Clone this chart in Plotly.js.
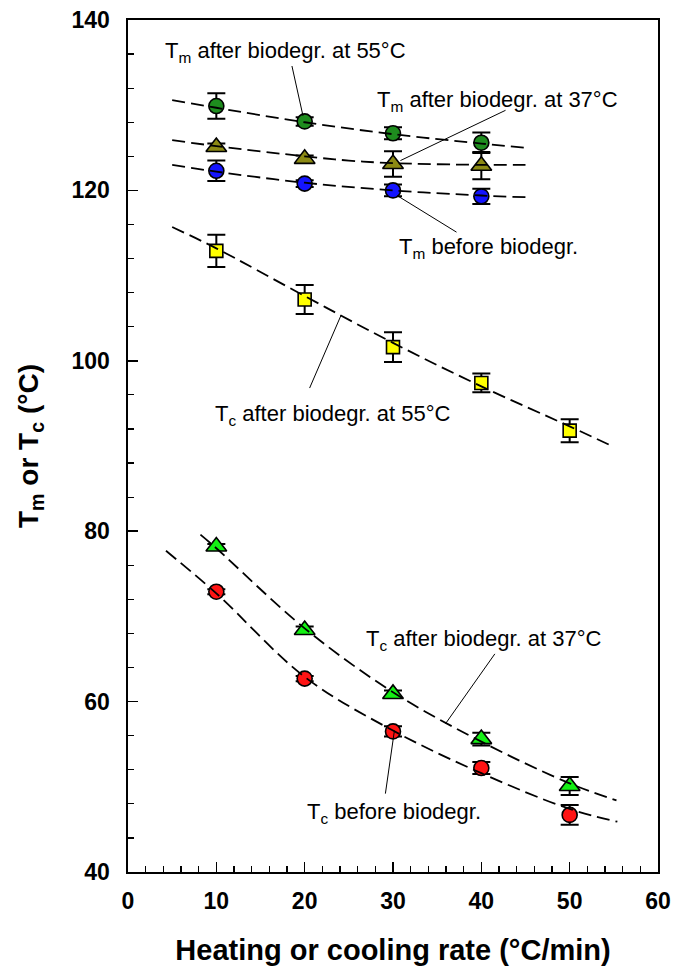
<!DOCTYPE html>
<html>
<head>
<meta charset="utf-8">
<script src="https://cdn.plot.ly/plotly-3.0.1.min.js"></script>
<style>html,body{margin:0;padding:0;background:#fff;}#chart{width:676px;height:972px;}</style>
</head>
<body>
<div id="chart"></div>
<script>
// ---- data ----
const rateTm = [10, 20, 30, 40];
const rateTc = [10, 20, 30, 40, 50];

const tmBefore = [122.3, 120.8, 120.0, 119.3];
const tmBeforeErr = [1.2, 0.4, 0.7, 0.9];
const tm37 = [125.1, 123.7, 123.1, 122.9];
const tm37Err = [0.4, 0.4, 1.5, 1.6];
const tm55 = [129.9, 128.1, 126.7, 125.6];
const tm55Err = [1.5, 0.5, 0.7, 1.2];

const tc55 = [112.9, 107.2, 101.6, 97.4, 91.8];
const tc55Err = [1.9, 1.7, 1.75, 1.1, 1.35];
const tc37 = [78.2, 68.4, 60.9, 55.6, 50.1];
const tc37Err = [0.3, 0.4, 0.4, 0.75, 1.05];
const tcBefore = [72.9, 62.7, 56.5, 52.2, 46.7];
const tcBeforeErr = [0.3, 0.3, 0.6, 0.7, 1.15];

// fitted dashed curves
const fitTm55X = [5, 10, 20, 30, 40, 45];
const fitTm55Y = [130.6, 129.7, 128.0, 126.6, 125.5, 125.0];
const fitTm37X = [5, 10, 20, 25, 30, 40, 45];
const fitTm37Y = [125.9, 125.2, 124.0, 123.5, 123.2, 123.0, 123.0];
const fitTmBefX = [5, 10, 20, 30, 40, 45];
const fitTmBefY = [123.0, 122.2, 120.9, 120.0, 119.4, 119.2];
const fitTc55X = [5, 10, 20, 30, 40, 50, 55];
const fitTc55Y = [115.7, 113.2, 107.6, 102.1, 97.0, 92.3, 89.9];
const fitTc37X = [8.2, 10, 20, 30, 40, 50, 55.3];
const fitTc37Y = [79.6, 78.0, 68.6, 61.1, 55.3, 50.4, 48.4];
const fitTcBefX = [4.3, 10, 20, 30, 40, 50, 55.4];
const fitTcBefY = [77.7, 72.7, 62.9, 56.6, 51.6, 47.4, 45.9];

const xTicks = [0, 10, 20, 30, 40, 50, 60];
const yTicks = [40, 60, 80, 100, 120, 140];

// ---- styling ----
const FONT = 'Liberation Sans, Arial, sans-serif';
function pts(x, y, err, symbol, color, size) {
  return {
    x: x, y: y, type: 'scatter', mode: 'markers',
    marker: {symbol: symbol, color: color, size: size, line: {color: '#000', width: 1.6}},
    error_y: {type: 'data', array: err, visible: true, color: '#000', thickness: 2, width: 9},
    hoverinfo: 'skip', showlegend: false, cliponaxis: false
  };
}
function fit(x, y) {
  return {
    x: x, y: y, type: 'scatter', mode: 'lines',
    line: {color: '#000', width: 1.8, dash: '13px,6px', shape: 'spline', smoothing: 1},
    hoverinfo: 'skip', showlegend: false
  };
}

const traces = [
  pts(rateTm, tm55, tm55Err, 'circle', '#1e8c1e', 15),
  pts(rateTm, tm37, tm37Err, 'triangle-up', '#8c8a14', 18),
  pts(rateTm, tmBefore, tmBeforeErr, 'circle', '#1414ff', 15),
  pts(rateTc, tc55, tc55Err, 'square', '#ffff00', 13),
  pts(rateTc, tc37, tc37Err, 'triangle-up', '#14f014', 18),
  pts(rateTc, tcBefore, tcBeforeErr, 'circle', '#ff1414', 15),
  fit(fitTm55X, fitTm55Y),
  fit(fitTm37X, fitTm37Y),
  fit(fitTmBefX, fitTmBefY),
  fit(fitTc55X, fitTc55Y),
  fit(fitTc37X, fitTc37Y),
  fit(fitTcBefX, fitTcBefY)
];

function label(text, x, y) {
  return {text: text, x: x, y: y, xref: 'x', yref: 'y', xanchor: 'left', yanchor: 'middle',
          showarrow: false, font: {family: FONT, size: 22, color: '#000'}};
}
function leader(x0, y0, x1, y1) {
  return {type: 'line', xref: 'x', yref: 'y', x0: x0, y0: y0, x1: x1, y1: y1,
          line: {color: '#000', width: 1}};
}

const layout = {
  width: 676, height: 972,
  margin: {l: 128, r: 18, t: 20, b: 100},
  paper_bgcolor: '#fff', plot_bgcolor: '#fff',
  font: {family: FONT, color: '#000'},
  xaxis: {
    range: [0, 60], tickvals: xTicks, ticktext: xTicks.map(String),
    showgrid: false, zeroline: false, showline: true, mirror: true,
    linecolor: '#000', linewidth: 1.6,
    ticks: 'inside', ticklen: 10, tickwidth: 1.5, tickcolor: '#000',
    minor: {dtick: 2, ticks: 'inside', ticklen: 6, tickwidth: 1.2, tickcolor: '#000'},
    tickfont: {family: FONT, size: 23, weight: 'bold'},
    ticklabelstandoff: 8,
    title: {text: 'Heating or cooling rate (°C/min)', font: {family: FONT, size: 29, weight: 'bold'}, standoff: 26}
  },
  yaxis: {
    range: [40, 140], tickvals: yTicks, ticktext: yTicks.map(String),
    showgrid: false, zeroline: false, showline: true, mirror: true,
    linecolor: '#000', linewidth: 1.6,
    ticks: 'inside', ticklen: 10, tickwidth: 1.5, tickcolor: '#000',
    minor: {dtick: 4, ticks: 'inside', ticklen: 6, tickwidth: 1.2, tickcolor: '#000'},
    tickfont: {family: FONT, size: 23, weight: 'bold'},
    ticklabelstandoff: 12,
    title: {text: 'T<sub>m</sub> or T<sub>c</sub> (°C)', font: {family: FONT, size: 28, weight: 'bold'}, standoff: 24}
  },
  annotations: [
    label('T<sub>m</sub> after biodegr. at 55°C', 3.97, 136.3),
    label('T<sub>m</sub> after biodegr. at 37°C', 28.0, 130.5),
    label('T<sub>m</sub> before biodegr.', 30.46, 113.2),
    label('T<sub>c</sub> after biodegr. at 55°C', 9.67, 93.65),
    label('T<sub>c</sub> after biodegr. at 37°C', 26.68, 67.2),
    label('T<sub>c</sub> before biodegr.', 20.07, 46.98)
  ],
  shapes: [
    leader(18.56, 134.6, 19.81, 128.75),
    leader(42.74, 129.4, 30.84, 123.5),
    leader(37.19, 115.1, 30.46, 119.4),
    leader(20.56, 96.8, 24.12, 105.35),
    leader(41.53, 65.6, 35.94, 57.4),
    leader(29.14, 49.2, 30.16, 56.6)
  ]
};

Plotly.newPlot('chart', traces, layout, {staticPlot: true, displayModeBar: false});
</script>
</body>
</html>
